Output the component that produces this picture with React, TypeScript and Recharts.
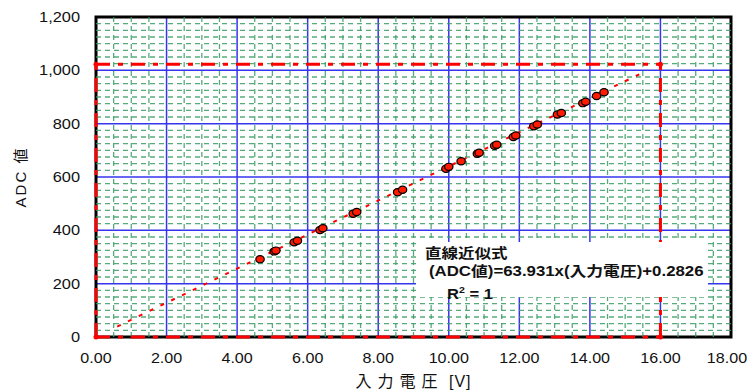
import React from 'react';
import {
  ScatterChart,
  Scatter,
  XAxis,
  YAxis,
  CartesianGrid,
  ReferenceLine,
  ReferenceArea,
  Label,
} from 'recharts';

// measured points: input voltage [V] vs ADC value
const VOLTS = [
  4.65, 5.05, 5.1, 5.62, 5.71, 6.35, 6.43, 7.29, 7.39, 8.55, 8.69, 9.92, 10.0, 10.35,
  10.81, 10.86, 11.3, 11.36, 11.83, 11.9, 12.41, 12.51, 13.08, 13.19, 13.8, 13.88,
  14.19, 14.4,
];
const ADC = [
  292, 321, 324, 355, 361, 401, 408, 462, 469, 543, 552, 631, 638, 659,
  687, 691, 717, 721, 750, 756, 790, 797, 834, 840, 877, 882,
  904, 918,
];

// ends of the fitted line as drawn
const TREND_VOLTS = [0.6, 15.4];
const TREND_ADC = [39, 985];

// full-scale corner (16 V -> 1023)
const LIMIT_V = 16;
const LIMIT_ADC = 1023;

const X_TICKS = [0, 2, 4, 6, 8, 10, 12, 14, 16, 18];
const Y_TICKS = [0, 200, 400, 600, 800, 1000, 1200];
const X_MINOR_STEP = 0.5;
const Y_MINOR_STEP = 25;

// minor grid positions, skipping the ones a major line already covers
const X_MINOR = Array.from({ length: 18 / X_MINOR_STEP + 1 }, (_, i) => i * X_MINOR_STEP).filter(
  (v) => v % 2 !== 0
);
const Y_MINOR = Array.from({ length: 1200 / Y_MINOR_STEP + 1 }, (_, i) => i * Y_MINOR_STEP).filter(
  (v) => v % 200 !== 0
);

const points = VOLTS.map((v, i) => ({ v, adc: ADC[i] }));
const corners = [
  { v: 0, adc: 0 },
  { v: 0, adc: LIMIT_ADC },
  { v: LIMIT_V, adc: LIMIT_ADC },
  { v: LIMIT_V, adc: 0 },
];

const FONT = "'Liberation Sans', Arial, 'Noto Sans CJK JP', sans-serif";
const RED = '#ff0000';
const RED_DASH = '14 8 5 8';
const GREEN = '#3a9c64';

const XTick = (props: any) => {
  const { x, y, payload } = props;
  const shift = payload.value === 18 ? -4 : 0;
  return (
    <g transform={`translate(${x + shift},${y})`}>
      <text transform="scale(1.15,1)" textAnchor="middle" dy="0.71em" fontSize={14} fill="#111" fontFamily={FONT}>
        {Number(payload.value).toFixed(2)}
      </text>
    </g>
  );
};

const YTick = (props: any) => {
  const { x, y, payload } = props;
  return (
    <g transform={`translate(${x},${y})`}>
      <text transform="scale(1.17,1)" textAnchor="end" dy="0.355em" fontSize={14} fill="#111" fontFamily={FONT}>
        {Number(payload.value).toLocaleString('en-US')}
      </text>
    </g>
  );
};

const Dot = (props: any) => {
  const { cx, cy } = props;
  return <ellipse cx={cx} cy={cy} rx={4.2} ry={3.6} fill="#ff1a00" stroke="#000" strokeWidth={1.2} />;
};

const CornerDot = (props: any) => {
  const { cx, cy } = props;
  return <circle cx={cx} cy={cy} r={2.5} fill={RED} />;
};

export default function App() {
  return (
    <div style={{ position: 'absolute', left: 0, top: 0, width: 749, height: 390, background: '#fff', fontFamily: FONT }}>
      <ScatterChart width={749} height={390} margin={{ top: 17, right: 18, bottom: 0, left: 0 }}>
        <CartesianGrid stroke="#3535f0" strokeWidth={1.5} />
        <XAxis
          type="number"
          dataKey="v"
          domain={[0, 18]}
          ticks={X_TICKS}
          height={53}
          tickSize={0}
          tickMargin={16}
          axisLine={false}
          tick={<XTick />}
        >
          <Label
            content={(p: any) => {
              const vb = p.viewBox;
              return (
                <text x={vb.x + vb.width / 2} y={vb.y + 50} textAnchor="middle" fontSize={16} fill="#111" fontFamily={FONT}>
                  <tspan letterSpacing={6}>入力電圧</tspan>
                  <tspan letterSpacing={1}> [V]</tspan>
                </text>
              );
            }}
          />
        </XAxis>
        <YAxis
          type="number"
          dataKey="adc"
          domain={[0, 1200]}
          ticks={Y_TICKS}
          width={96}
          tickSize={0}
          tickMargin={16}
          axisLine={false}
          tick={<YTick />}
        >
          <Label
            content={(p: any) => {
              const vb = p.viewBox;
              const cy = vb.y + vb.height / 2;
              return (
                <text
                  x={26}
                  y={cy}
                  transform={`rotate(-90, 26, ${cy})`}
                  textAnchor="middle"
                  fontSize={15}
                  letterSpacing={2}
                  fill="#111"
                  fontFamily={FONT}
                >
                  ADC 値
                </text>
              );
            }}
          />
        </YAxis>
        {X_MINOR.map((v) => (
          <ReferenceLine
            key={`mx${v}`}
            x={v}
            stroke={GREEN}
            strokeOpacity={0.85}
            strokeWidth={1.3}
            strokeDasharray="5 4"
          />
        ))}
        {Y_MINOR.map((v) => (
          <ReferenceLine
            key={`my${v}`}
            y={v}
            stroke={GREEN}
            strokeOpacity={0.85}
            strokeWidth={1.3}
            strokeDasharray="5 4"
          />
        ))}
        <ReferenceArea x1={0} x2={18} y1={0} y2={1200} fill="none" stroke="#000" strokeWidth={3} />
        <ReferenceLine
          segment={[{ x: TREND_VOLTS[0], y: TREND_ADC[0] }, { x: TREND_VOLTS[1], y: TREND_ADC[1] }]}
          stroke={RED}
          strokeWidth={2}
          strokeDasharray="4 8"
        />
        <ReferenceLine segment={[{ x: 0, y: LIMIT_ADC }, { x: LIMIT_V, y: LIMIT_ADC }]} stroke={RED} strokeWidth={3} strokeDasharray={RED_DASH} />
        <ReferenceLine segment={[{ x: LIMIT_V, y: 0 }, { x: LIMIT_V, y: LIMIT_ADC }]} stroke={RED} strokeWidth={3} strokeDasharray={RED_DASH} />
        <ReferenceLine segment={[{ x: 0, y: 0 }, { x: LIMIT_V, y: 0 }]} stroke={RED} strokeWidth={3} strokeDasharray={RED_DASH} />
        <ReferenceLine segment={[{ x: 0, y: 0 }, { x: 0, y: LIMIT_ADC }]} stroke={RED} strokeWidth={3} strokeDasharray={RED_DASH} />
        <Scatter data={corners} shape={<CornerDot />} isAnimationActive={false} />
        <Scatter data={points} shape={<Dot />} isAnimationActive={false} />
      </ScatterChart>
      <div
        style={{
          position: 'absolute',
          left: 416,
          top: 242,
          width: 292,
          height: 55,
          background: '#fff',
          fontWeight: 'bold',
          fontSize: 14,
          color: '#111',
          lineHeight: '18px',
        }}
      >
        <div style={{ position: 'absolute', left: 9, top: 2, transform: 'scaleX(1.18)', transformOrigin: 'left', whiteSpace: 'nowrap' }}>
          直線近似式
        </div>
        <div style={{ position: 'absolute', left: 13, top: 20, transform: 'scaleX(1.2)', transformOrigin: 'left', whiteSpace: 'nowrap' }}>
          (ADC値)=63.931x(入力電圧)+0.2826
        </div>
        <div style={{ position: 'absolute', left: 31, top: 39, transform: 'scaleX(1.18)', transformOrigin: 'left', whiteSpace: 'nowrap' }}>
          R<sup style={{ fontSize: 9, verticalAlign: 6 }}>2</sup> = 1
        </div>
      </div>
    </div>
  );
}
